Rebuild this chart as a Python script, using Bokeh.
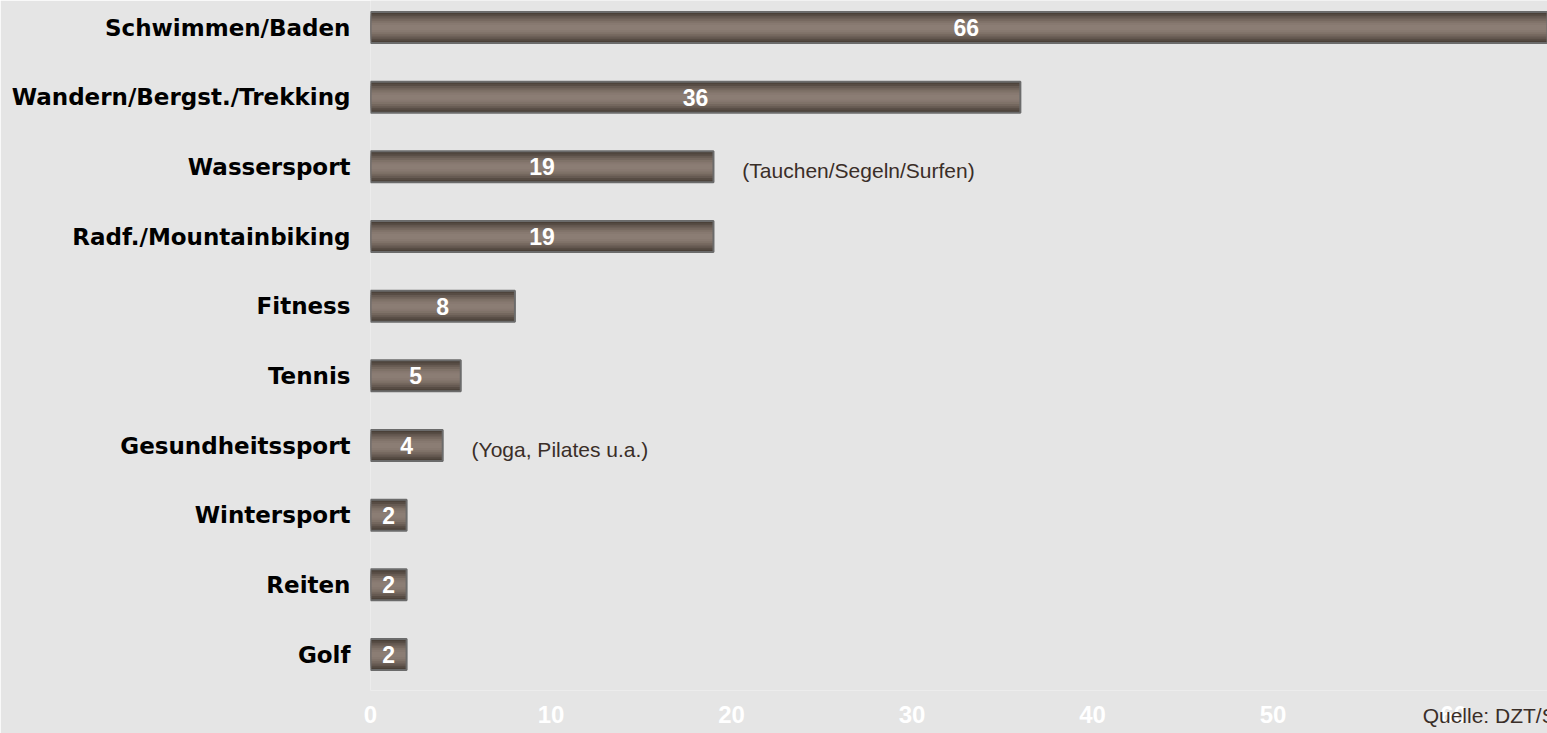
from bokeh.plotting import figure
from bokeh.models import Range1d, FixedTicker, ColumnDataSource
from bokeh.core.properties import value
from bokeh.embed import file_html
from bokeh.resources import INLINE

# ---- data ----
categories = ["Schwimmen/Baden", "Wandern/Bergst./Trekking", "Wassersport",
              "Radf./Mountainbiking", "Fitness", "Tennis", "Gesundheitssport",
              "Wintersport", "Reiten", "Golf"]
values = [66, 36, 19, 19, 8, 5, 4, 2, 2, 2]
note_categories = ["Wassersport", "Gesundheitssport"]
note_texts = ["(Tauchen/Segeln/Surfen)", "(Yoga, Pilates u.a.)"]
x_ticks = [0, 10, 20, 30, 40, 50, 60]
source_text = "Quelle: DZT/S"

n = len(categories)
ypos = [n - 1 - i for i in range(n)]
src = ColumnDataSource(dict(cat=categories, val=values, y=ypos,
                            mid=[v / 2 for v in values],
                            lab=[str(v) for v in values]))

note_y = [ypos[categories.index(c)] for c in note_categories]
note_x = [values[categories.index(c)] + 1.6 for c in note_categories]
nsrc = ColumnDataSource(dict(x=note_x, y=note_y, t=note_texts))

BG = "#e5e5e5"
p = figure(frame_width=1177, frame_height=690, output_backend="svg",
           toolbar_location=None, min_border_left=370, min_border_right=0,
           min_border_top=0, min_border_bottom=43,
           x_range=Range1d(0, 65.2), y_range=Range1d(-0.5167, 9.3876))
p.background_fill_color = BG
p.border_fill_color = BG
p.outline_line_color = None
p.grid.visible = False

# bars: layered for a vertical gradient look
H = 0.445
layers = [(1.0, "#4a4038"), (0.86, "#574c44"), (0.72, "#665a52"),
          (0.58, "#74675e"), (0.44, "#7f7268"), (0.3, "#877970"), (0.16, "#8b7d74")]
for frac, col in layers:
    p.hbar(y="y", left=0, right="val", height=H * frac, source=src,
           fill_color=col, line_color=None)
p.hbar(y="y", left=0, right="val", height=H, source=src,
       fill_alpha=0, line_color="#6b6b6b", line_width=2)

p.text(x="mid", y="y", text="lab", source=src, text_align="center",
       text_baseline="middle", text_color="white", text_font_style="bold",
       text_font=value("Liberation Sans"), text_font_size="23px")

p.text(x="x", y="y", text="t", source=nsrc, text_align="left",
       text_baseline="middle", y_offset=4, text_color="#3a2e28",
       text_font=value("Liberation Sans"), text_font_size="21px")

# axes
p.yaxis.ticker = FixedTicker(ticks=ypos)
p.yaxis.major_label_overrides = {y: c for y, c in zip(ypos, categories)}
p.yaxis.axis_line_color = None
p.yaxis.major_tick_line_color = None
p.yaxis.minor_tick_line_color = None
p.yaxis.major_tick_out = 0
p.yaxis.major_label_standoff = 20
p.yaxis.major_label_text_font = "DejaVu Sans"
p.yaxis.major_label_text_font_style = "bold"
p.yaxis.major_label_text_font_size = "23px"
p.yaxis.major_label_text_color = "#000000"

xa = p.xaxis[0]
xa.ticker = FixedTicker(ticks=x_ticks)
xa.axis_line_color = None
xa.major_tick_line_color = None
xa.minor_tick_line_color = None
xa.major_tick_out = 0
xa.major_label_standoff = 15
xa.major_label_text_font = "Liberation Sans"
xa.major_label_text_font_style = "bold"
xa.major_label_text_font_size = "24px"
xa.major_label_text_color = "#ffffff"

# source note rendered as the x-axis label at the axis end, on the tick row
# (trailing no-break spaces shift the centred label so it starts near x=58)
xa.axis_label = source_text + "\u00a0" * 20
xa.axis_label_text_font = "Liberation Sans"
xa.axis_label_text_font_style = "normal"
xa.axis_label_text_font_size = "21px"
xa.axis_label_text_color = "#3a2e28"
xa.axis_label_standoff = -22
try:
    xa.axis_label_align = "end"
except Exception:
    pass

open("out.html", "w").write(file_html(p, INLINE))
